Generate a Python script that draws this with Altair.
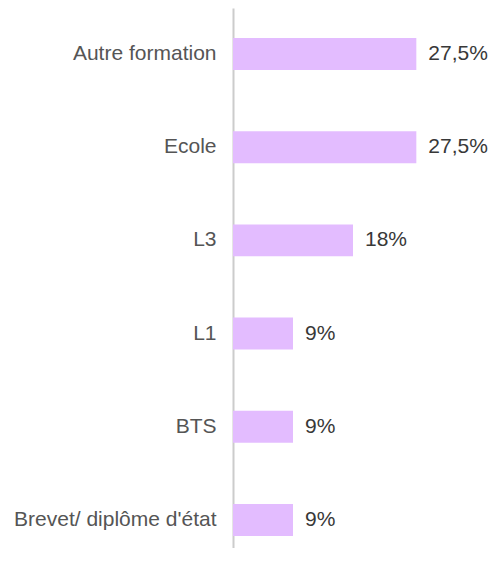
import altair as alt
import pandas as pd

categories = ["Autre formation", "Ecole", "L3", "L1", "BTS", "Brevet/ diplôme d'état"]
values = [27.5, 27.5, 18, 9, 9, 9]
labels = ["27,5%", "27,5%", "18%", "9%", "9%", "9%"]

df = pd.DataFrame({"cat": categories, "val": values, "lab": labels})

y_enc = alt.Y(
    "cat:N",
    sort=categories,
    title=None,
    scale=alt.Scale(paddingInner=0.657, paddingOuter=0.2253, align=0.714),
    axis=alt.Axis(
        ticks=False,
        grid=False,
        domainColor="#cccccc",
        domainWidth=2,
        labelFont="Liberation Sans",
        labelFontSize=21,
        labelColor="#555555",
        labelPadding=17,
        labelLimit=400,
    ),
)
x_enc = alt.X("val:Q", scale=alt.Scale(domain=[0, 30]), axis=None, title=None)

bars = alt.Chart(df).mark_bar(color="#E3BCFF").encode(y=y_enc, x=x_enc)
text = alt.Chart(df).mark_text(
    align="left", baseline="middle", dx=12,
    font="Liberation Sans", fontSize=21, color="#383838"
).encode(y=alt.Y("cat:N", sort=categories), x=x_enc, text="lab:N")

chart = (bars + text).properties(
    width=200, height=540,
    autosize=alt.AutoSizeParams(type="none"),
    padding={"left": 225, "top": 0, "right": 55, "bottom": 0},
).configure_view(stroke=None)

chart.save("out.html", embed_options={"renderer": "svg", "actions": False})
